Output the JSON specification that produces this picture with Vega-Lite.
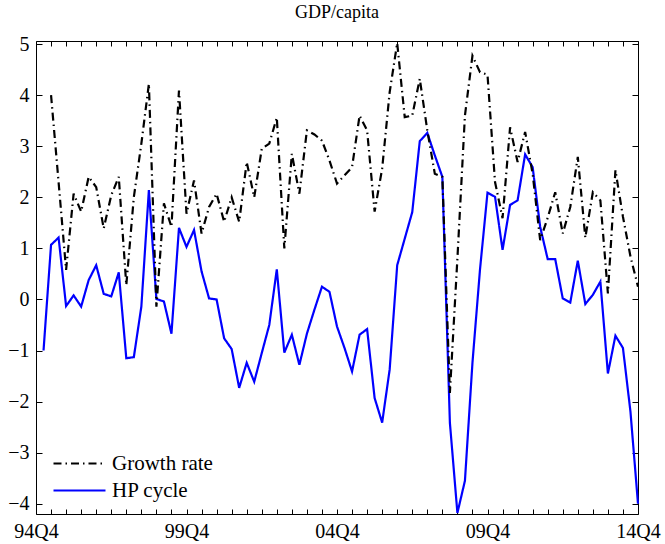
{
  "$schema": "https://vega.github.io/schema/vega-lite/v6.json",
  "width": 602,
  "height": 473,
  "autosize": {"type": "none"},
  "padding": {"left": 36, "top": 41, "right": 27, "bottom": 30},
  "background": "white",
  "title": {"text": "GDP/capita", "font": "Times New Roman, Liberation Serif, serif", "fontSize": 18, "fontWeight": "normal", "color": "black", "offset": 12},
  "config": {
    "font": "Times New Roman, Liberation Serif, serif",
    "view": {"stroke": "black", "strokeWidth": 1},
    "axis": {"grid": false, "domain": false, "labelFont": "Times New Roman, Liberation Serif, serif", "labelFontSize": 20, "labelColor": "black", "tickColor": "black", "title": null},
    "legend": {"labelFont": "Times New Roman, Liberation Serif, serif"}
  },
  "data": {"values": [
    {"q":1,"s":"HP cycle","v":-1.00},{"q":2,"s":"HP cycle","v":1.07},{"q":3,"s":"HP cycle","v":1.21},{"q":4,"s":"HP cycle","v":-0.13},{"q":5,"s":"HP cycle","v":0.08},
    {"q":6,"s":"HP cycle","v":-0.14},{"q":7,"s":"HP cycle","v":0.38},{"q":8,"s":"HP cycle","v":0.67},{"q":9,"s":"HP cycle","v":0.11},{"q":10,"s":"HP cycle","v":0.06},
    {"q":11,"s":"HP cycle","v":0.53},{"q":12,"s":"HP cycle","v":-1.15},{"q":13,"s":"HP cycle","v":-1.13},{"q":14,"s":"HP cycle","v":-0.14},{"q":15,"s":"HP cycle","v":2.14},
    {"q":16,"s":"HP cycle","v":0.01},{"q":17,"s":"HP cycle","v":-0.04},{"q":18,"s":"HP cycle","v":-0.67},{"q":19,"s":"HP cycle","v":1.40},{"q":20,"s":"HP cycle","v":1.03},
    {"q":21,"s":"HP cycle","v":1.36},{"q":22,"s":"HP cycle","v":0.55},{"q":23,"s":"HP cycle","v":0.02},{"q":24,"s":"HP cycle","v":0.00},{"q":25,"s":"HP cycle","v":-0.76},
    {"q":26,"s":"HP cycle","v":-0.97},{"q":27,"s":"HP cycle","v":-1.73},{"q":28,"s":"HP cycle","v":-1.24},{"q":29,"s":"HP cycle","v":-1.61},{"q":30,"s":"HP cycle","v":-1.05},
    {"q":31,"s":"HP cycle","v":-0.50},{"q":32,"s":"HP cycle","v":0.59},{"q":33,"s":"HP cycle","v":-1.04},{"q":34,"s":"HP cycle","v":-0.69},{"q":35,"s":"HP cycle","v":-1.28},
    {"q":36,"s":"HP cycle","v":-0.67},{"q":37,"s":"HP cycle","v":-0.20},{"q":38,"s":"HP cycle","v":0.25},{"q":39,"s":"HP cycle","v":0.15},{"q":40,"s":"HP cycle","v":-0.53},
    {"q":41,"s":"HP cycle","v":-0.95},{"q":42,"s":"HP cycle","v":-1.41},{"q":43,"s":"HP cycle","v":-0.69},{"q":44,"s":"HP cycle","v":-0.58},{"q":45,"s":"HP cycle","v":-1.93},
    {"q":46,"s":"HP cycle","v":-2.41},{"q":47,"s":"HP cycle","v":-1.37},{"q":48,"s":"HP cycle","v":0.67},{"q":49,"s":"HP cycle","v":1.19},{"q":50,"s":"HP cycle","v":1.71},
    {"q":51,"s":"HP cycle","v":3.10},{"q":52,"s":"HP cycle","v":3.26},{"q":53,"s":"HP cycle","v":2.82},{"q":54,"s":"HP cycle","v":2.40},{"q":55,"s":"HP cycle","v":-2.41},
    {"q":56,"s":"HP cycle","v":-4.18},{"q":57,"s":"HP cycle","v":-3.55},{"q":58,"s":"HP cycle","v":-1.24},{"q":59,"s":"HP cycle","v":0.58},{"q":60,"s":"HP cycle","v":2.09},
    {"q":61,"s":"HP cycle","v":2.01},{"q":62,"s":"HP cycle","v":0.97},{"q":63,"s":"HP cycle","v":1.85},{"q":64,"s":"HP cycle","v":1.94},{"q":65,"s":"HP cycle","v":2.84},
    {"q":66,"s":"HP cycle","v":2.59},{"q":67,"s":"HP cycle","v":1.42},{"q":68,"s":"HP cycle","v":0.79},{"q":69,"s":"HP cycle","v":0.79},{"q":70,"s":"HP cycle","v":0.02},
    {"q":71,"s":"HP cycle","v":-0.06},{"q":72,"s":"HP cycle","v":0.76},{"q":73,"s":"HP cycle","v":-0.09},{"q":74,"s":"HP cycle","v":0.09},{"q":75,"s":"HP cycle","v":0.35},
    {"q":76,"s":"HP cycle","v":-1.45},{"q":77,"s":"HP cycle","v":-0.71},{"q":78,"s":"HP cycle","v":-0.95},{"q":79,"s":"HP cycle","v":-2.20},{"q":80,"s":"HP cycle","v":-4.00},
    {"q":2,"s":"Growth rate","v":4.00},{"q":3,"s":"Growth rate","v":2.30},{"q":4,"s":"Growth rate","v":0.58},{"q":5,"s":"Growth rate","v":2.07},
    {"q":6,"s":"Growth rate","v":1.72},{"q":7,"s":"Growth rate","v":2.40},{"q":8,"s":"Growth rate","v":2.20},{"q":9,"s":"Growth rate","v":1.39},{"q":10,"s":"Growth rate","v":2.04},
    {"q":11,"s":"Growth rate","v":2.40},{"q":12,"s":"Growth rate","v":0.28},{"q":13,"s":"Growth rate","v":2.00},{"q":14,"s":"Growth rate","v":3.05},{"q":15,"s":"Growth rate","v":4.22},
    {"q":16,"s":"Growth rate","v":-0.14},{"q":17,"s":"Growth rate","v":1.88},{"q":18,"s":"Growth rate","v":1.42},{"q":19,"s":"Growth rate","v":4.09},{"q":20,"s":"Growth rate","v":1.68},
    {"q":21,"s":"Growth rate","v":2.33},{"q":22,"s":"Growth rate","v":1.29},{"q":23,"s":"Growth rate","v":1.81},{"q":24,"s":"Growth rate","v":2.07},{"q":25,"s":"Growth rate","v":1.52},
    {"q":26,"s":"Growth rate","v":2.00},{"q":27,"s":"Growth rate","v":1.52},{"q":28,"s":"Growth rate","v":2.69},{"q":29,"s":"Growth rate","v":2.00},{"q":30,"s":"Growth rate","v":2.95},
    {"q":31,"s":"Growth rate","v":3.05},{"q":32,"s":"Growth rate","v":3.56},{"q":33,"s":"Growth rate","v":1.00},{"q":34,"s":"Growth rate","v":2.85},{"q":35,"s":"Growth rate","v":2.07},
    {"q":36,"s":"Growth rate","v":3.31},{"q":37,"s":"Growth rate","v":3.23},{"q":38,"s":"Growth rate","v":3.11},{"q":39,"s":"Growth rate","v":2.72},{"q":40,"s":"Growth rate","v":2.27},
    {"q":41,"s":"Growth rate","v":2.43},{"q":42,"s":"Growth rate","v":2.59},{"q":43,"s":"Growth rate","v":3.60},{"q":44,"s":"Growth rate","v":3.31},{"q":45,"s":"Growth rate","v":1.72},
    {"q":46,"s":"Growth rate","v":2.56},{"q":47,"s":"Growth rate","v":4.06},{"q":48,"s":"Growth rate","v":5.02},{"q":49,"s":"Growth rate","v":3.57},{"q":50,"s":"Growth rate","v":3.60},
    {"q":51,"s":"Growth rate","v":4.32},{"q":52,"s":"Growth rate","v":3.31},{"q":53,"s":"Growth rate","v":2.46},{"q":54,"s":"Growth rate","v":2.40},{"q":55,"s":"Growth rate","v":-1.83},
    {"q":56,"s":"Growth rate","v":0.80},{"q":57,"s":"Growth rate","v":3.60},{"q":58,"s":"Growth rate","v":4.77},{"q":59,"s":"Growth rate","v":4.45},{"q":60,"s":"Growth rate","v":4.40},
    {"q":61,"s":"Growth rate","v":2.30},{"q":62,"s":"Growth rate","v":1.59},{"q":63,"s":"Growth rate","v":3.37},{"q":64,"s":"Growth rate","v":2.69},{"q":65,"s":"Growth rate","v":3.28},
    {"q":66,"s":"Growth rate","v":2.46},{"q":67,"s":"Growth rate","v":1.16},{"q":68,"s":"Growth rate","v":1.60},{"q":69,"s":"Growth rate","v":2.10},{"q":70,"s":"Growth rate","v":1.29},
    {"q":71,"s":"Growth rate","v":1.81},{"q":72,"s":"Growth rate","v":2.79},{"q":73,"s":"Growth rate","v":1.21},{"q":74,"s":"Growth rate","v":2.10},{"q":75,"s":"Growth rate","v":1.94},
    {"q":76,"s":"Growth rate","v":0.12},{"q":77,"s":"Growth rate","v":2.53},{"q":78,"s":"Growth rate","v":1.62},{"q":79,"s":"Growth rate","v":0.84},{"q":80,"s":"Growth rate","v":0.25}
  ]},
  "resolve": {"axis": {"x": "independent", "y": "independent"}},
  "layer": [
    {
      "mark": {"type": "line", "strokeWidth": 2.2},
      "encoding": {
        "x": {"field": "q", "type": "quantitative", "scale": {"domain": [0, 80], "nice": false, "zero": false},
              "axis": {"orient": "bottom", "values": [0,2,4,6,8,10,12,14,16,18,20,22,24,26,28,30,32,34,36,38,40,42,44,46,48,50,52,54,56,58,60,62,64,66,68,70,72,74,76,78,80],
                       "tickSize": -5, "labelPadding": 12, "labelFlush": false, "labelOverlap": false, "labelFont": "Times New Roman, Liberation Serif, serif", "labelFontSize": 20,
                       "labelExpr": "datum.value == 0 ? '94Q4' : datum.value == 20 ? '99Q4' : datum.value == 40 ? '04Q4' : datum.value == 60 ? '09Q4' : datum.value == 80 ? '14Q4' : ''"}},
        "y": {"field": "v", "type": "quantitative", "scale": {"domain": [-4.2, 5.06], "nice": false, "zero": false},
              "axis": {"orient": "left", "values": [-4,-3,-2,-1,0,1,2,3,4,5], "tickSize": -6, "labelPadding": 13, "labelFlush": false, "labelOverlap": false, "labelFont": "Times New Roman, Liberation Serif, serif", "labelFontSize": 20}},
        "color": {"field": "s", "type": "nominal", "scale": {"domain": ["Growth rate", "HP cycle"], "range": ["#000000", "#0000ff"]},
                  "legend": {"title": null, "orient": "none", "legendX": 33, "legendY": 412, "symbolType": "M-5.2,0H5.2", "symbolSize": 100, "symbolStrokeWidth": 2.2, "labelOffset": 22, "labelFont": "Times New Roman, Liberation Serif, serif", "labelFontSize": 21, "labelColor": "black", "rowPadding": 5, "padding": 0}},
        "strokeDash": {"field": "s", "type": "nominal", "scale": {"domain": ["Growth rate", "HP cycle"], "range": [[8, 4, 1.5, 4], [1, 0]]}, "legend": null}
      }
    },
    {
      "mark": {"type": "line", "strokeOpacity": 0},
      "encoding": {
        "x": {"field": "q", "type": "quantitative",
              "axis": {"orient": "top", "values": [0,2,4,6,8,10,12,14,16,18,20,22,24,26,28,30,32,34,36,38,40,42,44,46,48,50,52,54,56,58,60,62,64,66,68,70,72,74,76,78,80], "tickSize": -5, "labels": false}},
        "y": {"field": "v", "type": "quantitative",
              "axis": {"orient": "right", "values": [-4,-3,-2,-1,0,1,2,3,4,5], "tickSize": -6, "labels": false}}
      }
    }
  ]
}
